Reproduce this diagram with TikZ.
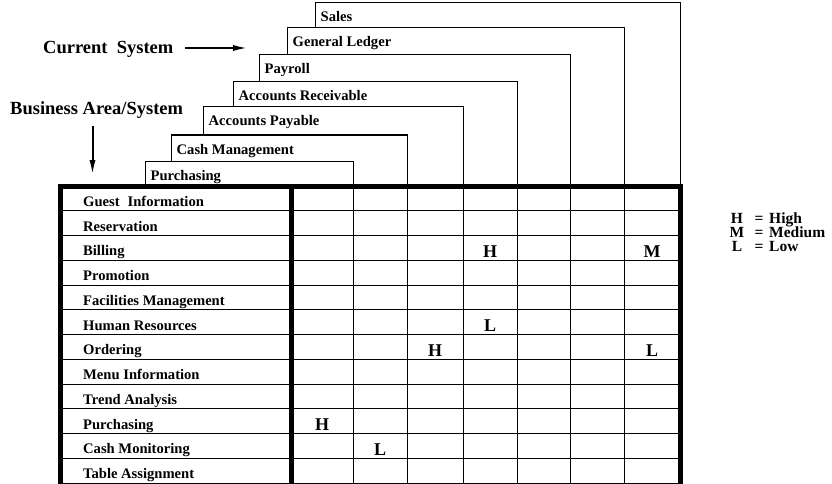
\documentclass[tikz,border=0pt]{standalone}
\usepackage{fontspec}
\setmainfont{Liberation Serif}
\usetikzlibrary{arrows.meta}
\begin{document}
\begin{tikzpicture}[x=1pt,y=-1pt,
  thinrule/.style={line width=1pt},
  thickrule/.style={line width=5pt},
  tabbox/.style={draw, line width=1pt, fill=white},
  tablabel/.style={anchor=base west, inner sep=0pt, font=\fontsize{14.6}{14.6}\selectfont\bfseries},
  rowlabel/.style={anchor=base west, inner sep=0pt, font=\fontsize{14.6}{14.6}\selectfont\bfseries},
  heading/.style={anchor=base west, inner sep=0pt, font=\fontsize{18.5}{18.5}\selectfont\bfseries},
  rating/.style={anchor=base, inner sep=0pt, font=\fontsize{18}{18}\selectfont\bfseries},
  legendtext/.style={inner sep=0pt, text height=10.5pt, text depth=1pt,
    font=\fontsize{15.5}{15.5}\selectfont\bfseries},
  pointer/.style={line width=2pt, -{Latex[length=15pt,width=6pt]}}
]
\useasboundingbox (0,0) rectangle (832,484);

% system tabs, drawn from the back (Sales) to the front (Purchasing)
\foreach \l/\t/\r/\n/\txt in {
  315/3/680/sales/Sales,
  287/28/624/gl/General Ledger,
  259/55/570/pay/Payroll,
  233/82/517/ar/Accounts Receivable,
  203/107/463/ap/Accounts Payable,
  171/135/407/cm/Cash Management,
  145/161/353/pur/Purchasing}{
  \draw[tabbox] (\l,\t) rectangle (\r,186);
  \node[tablabel] (tab-\n) at (\l+5.5,\t+19) {\txt};
}

% headings and pointers
\node[heading] (cursys) at (43,54) {Current\enspace System};
\coordinate (cursysStart) at (185,48);
\coordinate (cursysTip) at (248,48);
\draw[pointer] (cursysStart) -- (cursysTip);

\node[heading] (busarea) at (10,115) {Business Area/System};
\coordinate (busareaStart) at (92.5,126);
\coordinate (busareaTip) at (92.5,175);
\draw[pointer] (busareaStart) -- (busareaTip);

% matrix grid
\def\rh{24.75}
\foreach \i in {1,...,11}{
  \draw[thinrule] (60,186+\i*\rh) -- (680,186+\i*\rh);
}
\foreach \x in {353,407,463,517,570,624}{
  \draw[thinrule] (\x,186) -- (\x,485);
}
\draw[thickrule] (291,186) -- (291,486);
\draw[thickrule] (60,186) rectangle (680,485.5);

% business area rows
\foreach \txt [count=\i] in {
  Guest\hspace{8pt}Information, Reservation, Billing, Promotion,
  Facilities Management, Human Resources, Ordering, Menu Information,
  Trend Analysis, Purchasing, Cash Monitoring, Table Assignment}{
  \node[rowlabel] (row-\i) at (83,186+\i*\rh-4.5) {\txt};
}

% impact ratings
\foreach \x/\i/\v [count=\k] in {
  490/3/H, 652/3/M, 490/6/L, 435/7/H, 652/7/L, 322/10/H, 380/11/L}{
  \node[rating] (rate-\k) at (\x,186+\i*\rh-3) {\v};
}

% legend
\foreach \v/\w/\y [count=\k] in {H/High/223, M/Medium/237, L/Low/251}{
  \node[legendtext, anchor=base] (key-\k) at (737,\y) {\v};
  \node[legendtext, anchor=base] (eq-\k) at (759,\y) {=};
  \node[legendtext, anchor=base west] (val-\k) at (769,\y) {\w};
}
\end{tikzpicture}
\end{document}
